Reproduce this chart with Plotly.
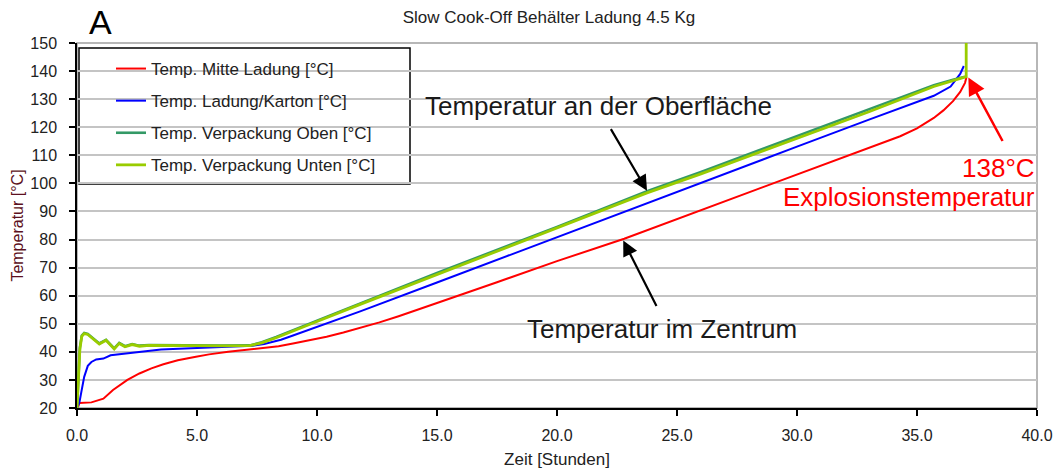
import plotly.graph_objects as go

# ---------------- data ----------------
series_names = [
    "Temp. Mitte Ladung [°C]",
    "Temp. Ladung/Karton [°C]",
    "Temp. Verpackung Oben [°C]",
    "Temp. Verpackung Unten [°C]",
]
series_colors = ["#ff0000", "#0000ff", "#339966", "#99cc00"]

time_mitte = [0.05, 0.1, 0.6, 1.1, 1.5, 2.1, 2.6, 3.1, 3.6, 4.2, 4.9, 5.5, 6.3, 7.0, 7.7,
              8.4, 9.0, 9.7, 10.4, 11.1, 11.8, 12.6, 13.4, 14.2, 15.0, 17.5, 20.0, 22.8, 24.0, 26.0,
              28.7, 30.1, 31.5, 32.9, 34.3, 35.0, 35.7, 36.1, 36.5, 36.8, 37.0, 37.06]
temp_mitte = [20.5, 21.8, 22.0, 23.3, 26.4, 30.0, 32.3, 34.1, 35.6, 37.0, 38.2, 39.1, 40.0, 40.6, 41.2,
              42.0, 43.0, 44.1, 45.4, 46.9, 48.5, 50.5, 52.7, 55.0, 57.4, 64.8, 72.3, 80.3, 84.1, 90.5,
              99.0, 103.4, 107.8, 112.2, 116.8, 119.6, 123.3, 126.0, 129.3, 132.6, 135.8, 137.8]

time_karton = [0.0, 0.1, 0.17, 0.3, 0.45, 0.6, 0.8, 1.1, 1.4, 2.1, 2.8, 3.5, 4.5, 5.3, 6.3,
               7.3, 7.8, 8.5, 9.0, 10.0, 11.8, 15.0, 20.0, 26.0, 30.0, 33.0, 35.7, 36.4, 36.8, 36.95]
temp_karton = [20.0, 22.0, 25.2, 31.1, 35.0, 36.4, 37.3, 37.6, 38.8, 39.4, 40.2, 40.8, 41.2, 41.5, 41.9,
               42.2, 42.8, 44.3, 45.8, 48.8, 54.4, 64.7, 80.9, 100.4, 113.1, 122.7, 131.2, 134.5, 139.0, 141.8]

time_oben = [0.0, 0.05, 0.12, 0.2, 0.3, 0.45, 0.65, 0.93, 1.21, 1.55, 1.76, 2.0, 2.3, 2.6, 3.0,
             4.0, 5.0, 6.0, 7.2, 7.7, 8.3, 9.0, 10.0, 11.8, 15.0, 20.0, 23.75, 26.0, 30.0, 33.0,
             35.7, 36.5, 37.0]
temp_oben = [20.0, 31.0, 41.5, 45.8, 46.7, 46.4, 45.0, 43.0, 44.3, 41.2, 43.2, 42.0, 42.8, 42.2, 42.4,
             42.3, 42.2, 42.2, 42.3, 43.4, 45.3, 47.7, 51.2, 57.4, 68.1, 84.5, 97.2, 104.1, 116.8, 126.2,
             135.0, 136.9, 138.0]

time_unten = [0.0, 0.05, 0.12, 0.2, 0.3, 0.45, 0.65, 0.93, 1.21, 1.55, 1.76, 2.0, 2.3, 2.6, 3.0,
              4.0, 5.0, 6.0, 7.2, 7.7, 8.3, 9.0, 10.0, 11.8, 15.0, 20.0, 23.75, 26.0, 30.0, 33.0,
              35.7, 36.5, 37.0, 37.05, 37.05]
temp_unten = [20.0, 30.0, 41.0, 45.5, 46.5, 46.2, 44.8, 42.8, 44.1, 41.0, 43.0, 41.8, 42.6, 42.0, 42.3,
              42.2, 42.1, 42.1, 42.2, 43.2, 45.0, 47.3, 50.8, 56.9, 67.5, 83.9, 96.6, 103.4, 116.0, 125.5,
              134.5, 136.5, 138.0, 138.0, 155.0]

x_ticks = [0, 5, 10, 15, 20, 25, 30, 35, 40]
y_ticks = [20, 30, 40, 50, 60, 70, 80, 90, 100, 110, 120, 130, 140, 150]

chart_title = "Slow Cook-Off Behälter Ladung 4.5 Kg"
x_title = "Zeit [Stunden]"
y_title = "Temperatur [°C]"
label_surface = "Temperatur an der Oberfläche"
label_center = "Temperatur im Zentrum"
label_temp = "138°C"
label_expl = "Explosionstemperatur"

# ---------------- figure ----------------
FONT = "Liberation Sans, Arial, sans-serif"
fig = go.Figure()
all_x = [time_mitte, time_karton, time_oben, time_unten]
all_y = [temp_mitte, temp_karton, temp_oben, temp_unten]
widths = [2, 2, 2.6, 2.8]
for i in range(4):
    fig.add_trace(go.Scatter(
        x=all_x[i], y=all_y[i], mode="lines", name=series_names[i],
        legendgroup=f"g{i}",
        line=dict(color=series_colors[i], width=widths[i]),
    ))

L, R, T, B = 77, 21, 43, 65
W, H = 1058, 473
pw, ph = W - L - R, H - T - B

def px(x):
    return (x - L) / pw

def py(y):
    return 1 - (y - T) / ph

fig.update_layout(
    width=W, height=H,
    margin=dict(l=L, r=R, t=T, b=B, pad=0, autoexpand=False),
    paper_bgcolor="white", plot_bgcolor="white",
    font=dict(family=FONT, color="#1a1a1a", size=14),
    title=dict(text=chart_title, x=px(549), xref="paper", xanchor="center",
               y=1 - 17 / H, yanchor="middle",
               font=dict(size=17, color="#222222", family=FONT)),
    showlegend=True,
    legend=dict(
        x=px(111), y=py(51), xanchor="left", yanchor="top",
        bgcolor="rgba(0,0,0,0)", borderwidth=0,
        font=dict(size=17, color="#222222", family=FONT),
        traceorder="grouped", tracegroupgap=7,
        itemwidth=30,
    ),
    xaxis=dict(
        range=[0, 40], tickvals=x_ticks, tickformat=".1f", automargin=False,
        showgrid=False, zeroline=False,
        showline=True, linecolor="black", linewidth=1.5,
        ticks="outside", ticklen=6, tickcolor="black", tickwidth=1.5,
        tickfont=dict(size=16, color="#222222"), ticklabelstandoff=6,
        title=dict(text=x_title, font=dict(size=17, color="#222222"), standoff=10),
    ),
    yaxis=dict(
        range=[20, 150], tickvals=y_ticks, automargin=False,
        showgrid=True, gridcolor="#c4c4c4", gridwidth=1.5, zeroline=False,
        showline=True, linecolor="black", linewidth=1.5,
        ticks="outside", ticklen=6, tickcolor="black", tickwidth=1.5,
        tickfont=dict(size=16, color="#222222"), ticklabelstandoff=9,
        title=dict(text=y_title, font=dict(size=16, color="#5c1020"), standoff=3),
    ),
)

# frame (top / right gray border) and legend box
fig.add_shape(type="rect", xref="paper", yref="paper", x0=0, x1=1, y0=0, y1=1,
              line=dict(color="#a0a0a0", width=1.5), layer="below")
fig.add_shape(type="rect", xref="paper", yref="paper",
              x0=px(79), x1=px(410), y0=py(184), y1=py(48),
              line=dict(color="black", width=1.5), fillcolor="white", layer="below")

# letter A
fig.add_annotation(text="A", xref="paper", yref="paper", x=px(100), y=py(22),
                   showarrow=False, font=dict(size=34, color="black", family=FONT),
                   xanchor="center", yanchor="middle")

# text labels
fig.add_annotation(text=label_surface, xref="x", yref="y", x=21.72, y=127.6,
                   showarrow=False, font=dict(size=26, color="#1a1a1a", family=FONT))
fig.add_annotation(text=label_center, xref="x", yref="y", x=24.37, y=48.2,
                   showarrow=False, font=dict(size=26, color="#1a1a1a", family=FONT))
fig.add_annotation(text=label_temp, xref="x", yref="y", x=38.38, y=105.6,
                   showarrow=False, font=dict(size=26, color="#ff0000", family=FONT))
fig.add_annotation(text=label_expl, xref="x", yref="y", x=34.65, y=95.0,
                   showarrow=False, font=dict(size=26, color="#ff0000", family=FONT))

# arrows
fig.add_annotation(text="", xref="x", yref="y", x=23.75, y=97.4, ax=-37, ay=-63,
                   showarrow=True, arrowhead=2, arrowsize=1.4, arrowwidth=2.2, arrowcolor="black")
fig.add_annotation(text="", xref="x", yref="y", x=22.76, y=79.7, ax=34, ay=67,
                   showarrow=True, arrowhead=2, arrowsize=1.4, arrowwidth=2.2, arrowcolor="black")
fig.add_annotation(text="", xref="x", yref="y", x=37.14, y=137.7, ax=35, ay=65,
                   showarrow=True, arrowhead=2, arrowsize=1.4, arrowwidth=2.5, arrowcolor="#ff0000")

fig.write_html("out.html", config={"displayModeBar": False},
               post_script="document.body.style.margin='0';")
